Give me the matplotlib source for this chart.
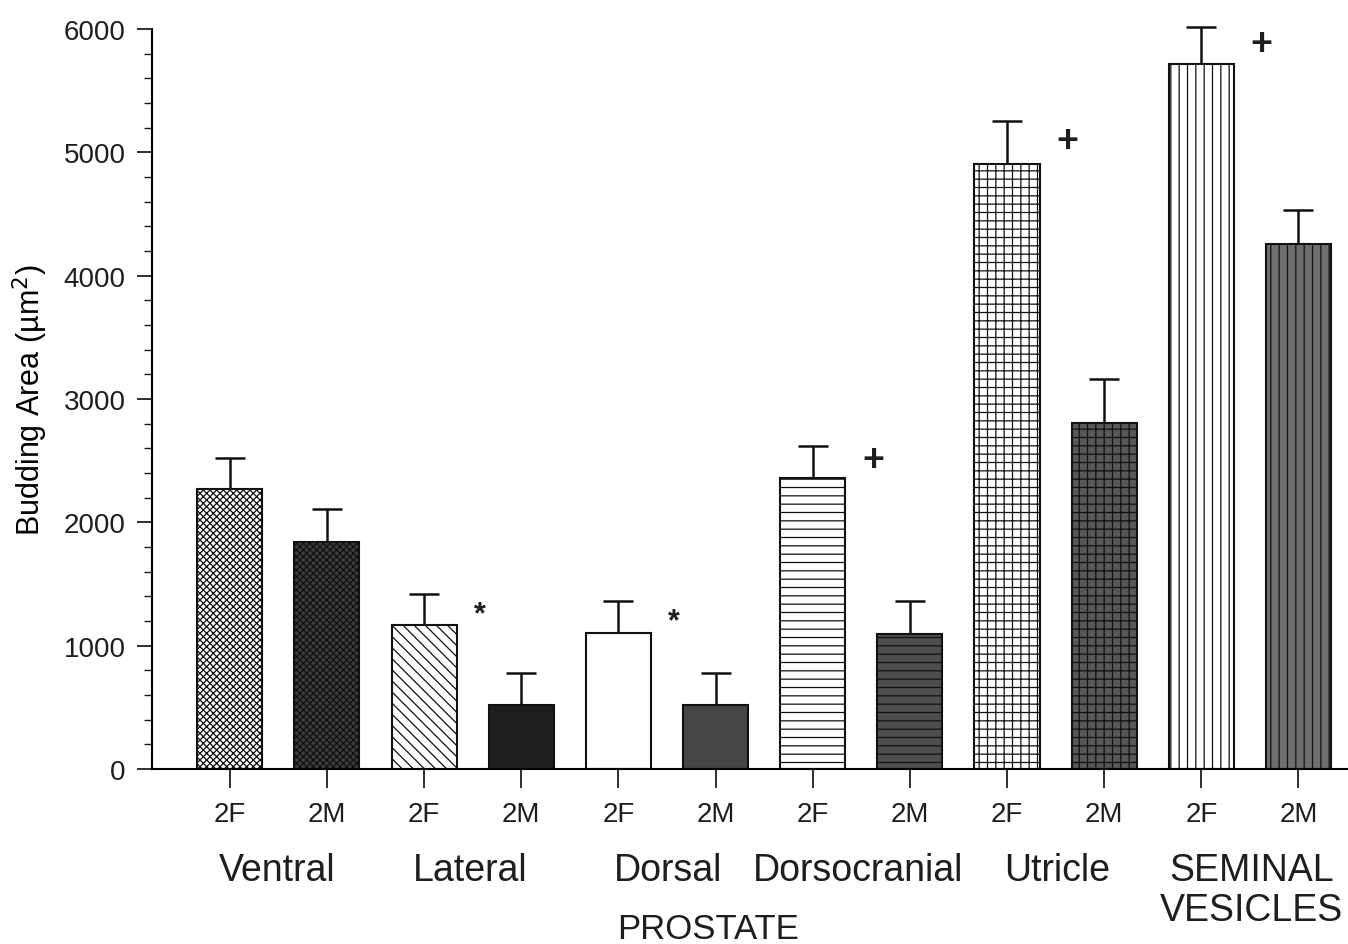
import matplotlib.pyplot as plt
import numpy as np

plt.rcParams['font.family'] = ['Liberation Sans', 'DejaVu Sans']
plt.rcParams['hatch.linewidth'] = 0.9
plt.rcParams['text.color'] = '#1e1e1e'
plt.rcParams['xtick.color'] = '#1e1e1e'
plt.rcParams['ytick.color'] = '#1e1e1e'

# data
groups = ['Ventral', 'Lateral', 'Dorsal', 'Dorsocranial', 'Utricle', 'SEMINAL\nVESICLES']
bar_labels = ['2F', '2M'] * 6
means = [2270, 1840, 1165, 520, 1105, 515, 2360, 1095, 4905, 2805, 5715, 4255]
errors = [255, 270, 250, 260, 260, 265, 260, 270, 345, 355, 300, 280]
marks = ['', '', '*', '', '*', '', '+', '', '+', '', '+', '']

faces = ['white', '#3c3c3c', 'white', '#1e1e1e', 'white', '#464646',
         'white', '#4e4e4e', 'white', '#585858', 'white', '#6e6e6e']
hatches = ['xxxxx', 'xxxxx', '\\\\\\', None, None, None,
           '--', '--', '++', '++', '||', '||']

fig = plt.figure(figsize=(13.48, 9.45), dpi=100)
ax = fig.add_axes([0.1128, 0.1852, 0.8872, 0.7831])

x = np.arange(len(means))
for i in range(len(means)):
    ax.bar(x[i], means[i], width=0.67, color=faces[i], edgecolor='#111111',
           linewidth=1.5, hatch=hatches[i], zorder=2)
eb = ax.errorbar(x, means, yerr=[np.zeros(len(errors)), errors], fmt='none',
                 ecolor='#111111', elinewidth=1.8, capsize=11, capthick=1.8, zorder=1)
for artist in eb.get_children():
    artist.set_clip_on(False)

# significance marks beside the bars
for i, m in enumerate(marks):
    if m == '*':
        ax.text(x[i] + 0.57, means[i] + errors[i] * 0.35, m, fontsize=22,
                ha='center', va='center', fontweight='bold')
    elif m == '+':
        ax.text(x[i] + 0.62, means[i] + errors[i] * 0.55, m, fontsize=27,
                ha='center', va='center', fontweight='bold')

ax.set_xlim(-0.80, 11.51)
ax.set_ylim(0, 6000)
ax.set_yticks(np.arange(0, 6001, 1000))
ax.set_yticks(np.arange(0, 6001, 200), minor=True)
ax.tick_params(axis='y', which='major', length=11, width=1.3, labelsize=20, pad=8)
ax.tick_params(axis='y', which='minor', length=6, width=1.0)
ax.set_xticks(x)
ax.set_xticklabels(bar_labels)
ax.tick_params(axis='x', which='major', length=14, width=1.3, labelsize=20, pad=9)
ax.spines['top'].set_visible(False)
ax.spines['right'].set_visible(False)
ax.spines['left'].set_linewidth(1.5)
ax.spines['bottom'].set_linewidth(1.5)
ax.set_ylabel('Budding Area (\u00b5m$^2$)', fontsize=22, labelpad=10)

# group labels under the axis
tr = ax.get_xaxis_transform()
group_x = [0.49, 2.47, 4.51, 6.47, 8.52, 10.52]
for gx, g in zip(group_x, groups):
    ax.text(gx, -0.112, g, transform=tr, ha='center', va='top', fontsize=27,
            linespacing=1.15)
ax.text(4.92, -0.193, 'PROSTATE', transform=tr, ha='center', va='top', fontsize=25)

fig.savefig('out.png', dpi=100)
